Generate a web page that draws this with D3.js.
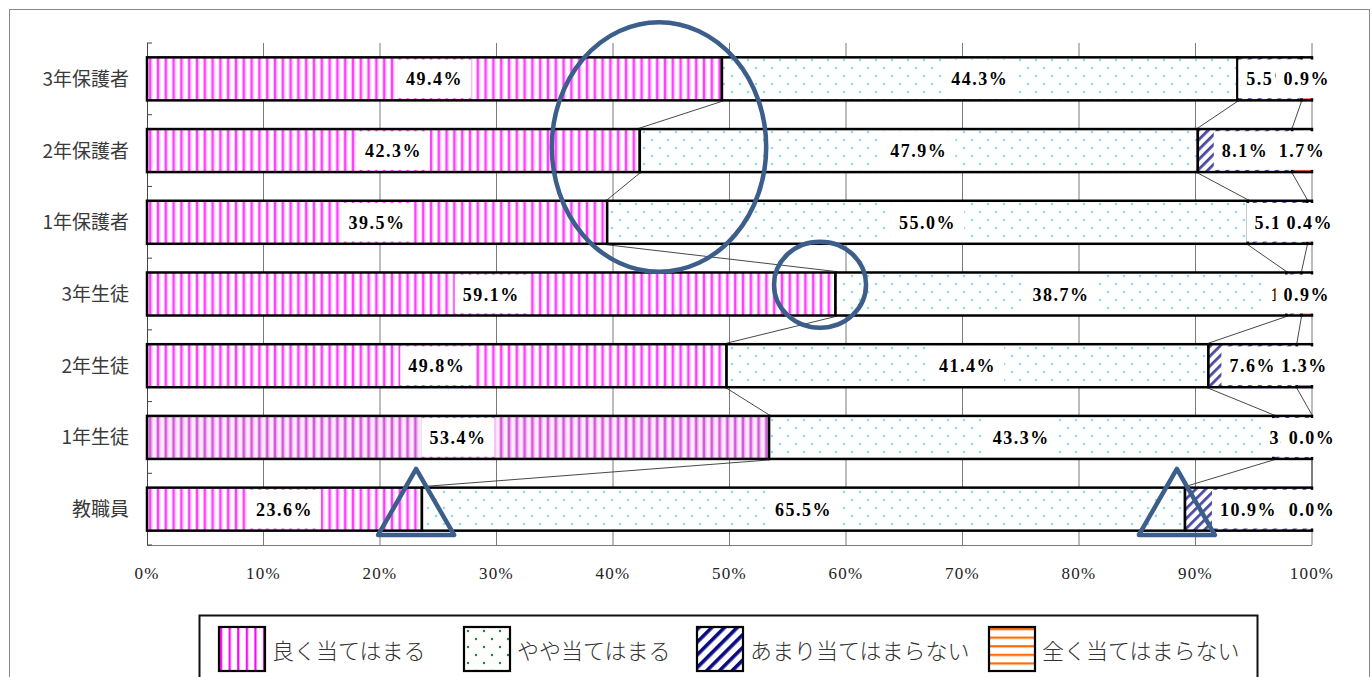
<!DOCTYPE html>
<html>
<head>
<meta charset="utf-8">
<script src="https://cdn.jsdelivr.net/npm/d3@7"></script>
<style>
  body { margin: 0; background: #fff; }
  svg { display: block; }
</style>
</head>
<body>
<div id="chart"></div>
<script>
// categories (top to bottom)
var categories = ["3年保護者", "2年保護者", "1年保護者", "3年生徒", "2年生徒", "1年生徒", "教職員"];
var seriesNames = ["良く当てはまる", "やや当てはまる", "あまり当てはまらない", "全く当てはまらない"];

// values per series, same order as categories
var yokuAtehamaru   = [49.4, 42.3, 39.5, 59.1, 49.8, 53.4, 23.6];
var yayaAtehamaru   = [44.3, 47.9, 55.0, 38.7, 41.4, 43.3, 65.5];
var amariAtehamaranai = [5.5, 8.1, 5.1, 1.3, 7.6, 3.3, 10.9];
var mattakuAtehamaranai = [0.9, 1.7, 0.4, 0.9, 1.3, 0.0, 0.0];

var xTicks = [0, 0.1, 0.2, 0.3, 0.4, 0.5, 0.6, 0.7, 0.8, 0.9, 1.0];

var series = [yokuAtehamaru, yayaAtehamaru, amariAtehamaranai, mattakuAtehamaranai];

// annotation shapes, in axis units (x = share, y = offset in bands from a category centre)
var ellipses = [
    { x: 0.4395, cat: "2年保護者", dy: -0.05, rx: 0.092, ry: 1.74 },
    { x: 0.5777, cat: "3年生徒", dy: -0.13, rx: 0.0395, ry: 0.60 }
];
var triangles = [
    { x: 0.231, cat: "教職員", top: -0.56, bottom: 0.36, half: 0.0326 },
    { x: 0.884, cat: "教職員", top: -0.56, bottom: 0.36, half: 0.0326 }
];

var W = 1372, H = 677;
var margin = { top: 43, left: 147, right: 60, bottom: 132 };

var svg = d3.select("#chart").append("svg")
    .attr("width", W)
    .attr("height", H);

// patterns
var defs = svg.append("defs");

function stripePattern(id, w, bg, parts) {
    var p = defs.append("pattern")
        .attr("id", id)
        .attr("patternUnits", "userSpaceOnUse")
        .attr("width", w).attr("height", 10);
    p.append("rect").attr("width", w).attr("height", 10).attr("fill", bg);
    parts.forEach(function (s) {
        p.append("rect").attr("x", s[0]).attr("width", s[1]).attr("height", 10).attr("fill", s[2]);
    });
    return p;
}
stripePattern("pinkBar", 7.8, "#fff", [[0, 1, "#ffc6ff"], [1, 2.4, "#ff3cff"], [3.4, 1, "#ffc6ff"]]);
stripePattern("pinkFaded", 7.8, "#fdebfd", [[0, 1, "#eab0ee"], [1, 2.4, "#d656dc"], [3.4, 1, "#eab0ee"]]);
stripePattern("pinkLegend", 8.6, "#fff", [[1, 2.2, "#ff00ff"]]);

function dotPattern(id, size, r, color) {
    var p = defs.append("pattern")
        .attr("id", id)
        .attr("patternUnits", "userSpaceOnUse")
        .attr("width", size).attr("height", size);
    p.append("rect").attr("width", size).attr("height", size).attr("fill", "#fff");
    p.append("circle").attr("cx", size / 4).attr("cy", size / 4).attr("r", r).attr("fill", color);
    p.append("circle").attr("cx", size * 3 / 4).attr("cy", size * 3 / 4).attr("r", r).attr("fill", color);
}
dotPattern("dotBar", 16, 1.3, "#86e2e4");
dotPattern("dotLegend", 16, 1.2, "#1a8a1a");

function diagPattern(id, w, line, color) {
    var p = defs.append("pattern")
        .attr("id", id)
        .attr("patternUnits", "userSpaceOnUse")
        .attr("width", w).attr("height", w)
        .attr("patternTransform", "rotate(45)");
    p.append("rect").attr("width", w).attr("height", w).attr("fill", "#fff");
    p.append("rect").attr("width", line).attr("height", w).attr("fill", color);
}
diagPattern("diagBar", 7, 2.8, "#4a4aa4");
diagPattern("diagLegend", 9, 3.6, "#0a0a84");

function hPattern(id, h, line, color) {
    var p = defs.append("pattern")
        .attr("id", id)
        .attr("patternUnits", "userSpaceOnUse")
        .attr("width", 10).attr("height", h);
    p.append("rect").attr("width", 10).attr("height", h).attr("fill", "#fff");
    p.append("rect").attr("y", 1).attr("width", 10).attr("height", line).attr("fill", color);
}
hPattern("hBar", 6, 2, "#ff6a4a");
hPattern("hLegend", 8.6, 2.2, "#ff6a00");

var barFills = ["pinkBar", "dotBar", "diagBar", "hBar"];
var legendFills = ["pinkLegend", "dotLegend", "diagLegend", "hLegend"];

// outer frame
svg.append("rect")
    .attr("x", 9.5).attr("y", 9.5)
    .attr("width", W - 12).attr("height", H + 20)
    .attr("fill", "none").attr("stroke", "#8a8a8a");

// scales
var x = d3.scaleLinear().domain([0, 1]).range([margin.left, W - margin.right]);
var y = d3.scaleBand().domain(categories)
    .range([margin.top, H - margin.bottom])
    .paddingInner(0.4).paddingOuter(0.2);
var bw = y.bandwidth();
var step = y.step();

// 100% stacked: normalise each row
var rows = categories.map(function (c, i) {
    var vals = series.map(function (s) { return s[i]; });
    var total = d3.sum(vals);
    var acc = 0;
    var segs = vals.map(function (v, k) {
        var s = { cat: c, k: k, value: v, x0: acc / total };
        acc += v;
        s.x1 = acc / total;
        return s;
    });
    return { cat: c, segs: segs };
});

// gridlines
svg.append("g")
    .selectAll("line")
    .data(xTicks.slice(1))
    .join("line")
    .attr("x1", function (d) { return x(d); })
    .attr("x2", function (d) { return x(d); })
    .attr("y1", margin.top).attr("y2", H - margin.bottom)
    .attr("stroke", "#7a7a7a").attr("stroke-width", 1);

// x axis line and labels
svg.append("line")
    .attr("x1", x(0)).attr("x2", x(1))
    .attr("y1", H - margin.bottom + 0.5).attr("y2", H - margin.bottom + 0.5)
    .attr("stroke", "#7a7a7a");

svg.append("g")
    .selectAll("text")
    .data(xTicks)
    .join("text")
    .attr("x", function (d) { return x(d); })
    .attr("y", H - margin.bottom + 34)
    .attr("text-anchor", "middle")
    .style("font-family", "'Liberation Serif', serif")
    .style("font-size", "17px")
    .style("letter-spacing", "1.2px")
    .attr("fill", "#222")
    .text(function (d) { return Math.round(d * 100) + "%"; });

// y axis line + inner ticks at band edges
svg.append("line")
    .attr("x1", x(0) + 0.5).attr("x2", x(0) + 0.5)
    .attr("y1", margin.top).attr("y2", H - margin.bottom)
    .attr("stroke", "#444");

var edges = d3.range(categories.length + 1).map(function (i) { return margin.top + i * step; });
svg.append("g")
    .selectAll("line")
    .data(edges)
    .join("line")
    .attr("x1", x(0)).attr("x2", x(0) + 5)
    .attr("y1", function (d) { return d; })
    .attr("y2", function (d) { return d; })
    .attr("stroke", "#444");

svg.append("g")
    .selectAll("text")
    .data(categories)
    .join("text")
    .attr("x", 129)
    .attr("y", function (d) { return y(d) + bw / 2 + 7; })
    .attr("text-anchor", "end")
    .style("font-family", "'Noto Sans CJK JP', sans-serif")
    .style("font-size", "19px")
    .attr("fill", "#3a3a3a")
    .text(function (d) { return d; });

// bars
var allSegs = [];
rows.forEach(function (r) { allSegs = allSegs.concat(r.segs); });

svg.append("g")
    .selectAll("rect")
    .data(allSegs)
    .join("rect")
    .attr("x", function (d) { return x(d.x0); })
    .attr("y", function (d) { return y(d.cat); })
    .attr("width", function (d) { return x(d.x1) - x(d.x0); })
    .attr("height", bw)
    .attr("fill", function (d) {
        if (d.k === 0 && d.cat === "1年生徒") return "url(#pinkFaded)";
        return "url(#" + barFills[d.k] + ")";
    })
    .attr("stroke", "#000")
    .attr("stroke-width", 2.5);

// series lines between bars
var sLines = [];
for (var i = 0; i < rows.length - 1; i++) {
    for (var k = 0; k < 3; k++) {
        sLines.push({ a: rows[i].segs[k].x1, ca: rows[i].cat, b: rows[i + 1].segs[k].x1, cb: rows[i + 1].cat });
    }
}
svg.append("g")
    .selectAll("line")
    .data(sLines)
    .join("line")
    .attr("x1", function (d) { return x(d.a); })
    .attr("y1", function (d) { return y(d.ca) + bw + 1; })
    .attr("x2", function (d) { return x(d.b); })
    .attr("y2", function (d) { return y(d.cb) - 1; })
    .attr("stroke", "#333").attr("stroke-width", 0.9);

// data labels with white box, drawn series by series (later ones cover earlier, as in the original)
for (var s = 0; s < series.length; s++) {
    var g = svg.append("g");
    var segs = allSegs.filter(function (d) { return d.k === s; });
    var lab = g.selectAll("g").data(segs).join("g")
        .attr("transform", function (d) {
            return "translate(" + x((d.x0 + d.x1) / 2) + "," + (y(d.cat) + bw / 2) + ")";
        });
    var box = lab.append("rect").attr("fill", "#fff");
    var txt = lab.append("text")
        .attr("y", 6.5)
        .attr("text-anchor", "middle")
        .style("font-family", "'Liberation Serif', serif")
        .style("font-weight", "bold")
        .style("font-size", "18px")
        .style("letter-spacing", "1.5px")
        .attr("fill", "#000")
        .text(function (d) { return d.value.toFixed(1) + "%"; });
    txt.each(function (d) { d.tw = this.getComputedTextLength(); });
    box.attr("x", function (d) { return -d.tw / 2 - 8; })
        .attr("width", function (d) { return d.tw + 16; })
        .attr("y", -bw / 2 + 2.2)
        .attr("height", bw - 4.4);
}

// annotation shapes
var annColor = "#3c5e8a";
svg.append("g")
    .selectAll("ellipse")
    .data(ellipses)
    .join("ellipse")
    .attr("cx", function (d) { return x(d.x); })
    .attr("cy", function (d) { return y(d.cat) + bw / 2 + d.dy * step; })
    .attr("rx", function (d) { return x(d.rx) - x(0); })
    .attr("ry", function (d) { return d.ry * step; })
    .attr("fill", "none")
    .attr("stroke", annColor)
    .attr("stroke-width", 4.5);

svg.append("g")
    .selectAll("path")
    .data(triangles)
    .join("path")
    .attr("d", function (d) {
        var cy = y(d.cat) + bw / 2;
        var half = x(d.half) - x(0);
        var xc = x(d.x);
        return "M" + xc + "," + (cy + d.top * step) +
            "L" + (xc + half) + "," + (cy + d.bottom * step) +
            "L" + (xc - half) + "," + (cy + d.bottom * step) + "Z";
    })
    .attr("fill", "none")
    .attr("stroke", annColor)
    .attr("stroke-width", 4.5)
    .attr("stroke-linejoin", "round");

// legend
var legendX = [219, 464, 697, 989];
svg.append("rect")
    .attr("x", 199.5).attr("y", 615.5)
    .attr("width", 1058).attr("height", 90)
    .attr("fill", "#fff")
    .attr("stroke", "#111").attr("stroke-width", 2);

var leg = svg.append("g")
    .selectAll("g")
    .data(seriesNames)
    .join("g")
    .attr("transform", function (d, i) { return "translate(" + legendX[i] + ",627)"; });

leg.append("rect")
    .attr("width", 46).attr("height", 44)
    .attr("fill", function (d, i) { return "url(#" + legendFills[i] + ")"; })
    .attr("stroke", "#000").attr("stroke-width", 2.2);

leg.append("text")
    .attr("x", 53)
    .attr("y", 32)
    .style("font-family", "'Noto Sans CJK JP', sans-serif")
    .style("font-size", "22px")
    .style("font-weight", "300")
    .attr("fill", "#333")
    .text(function (d) { return d; });
</script>
</body>
</html>
